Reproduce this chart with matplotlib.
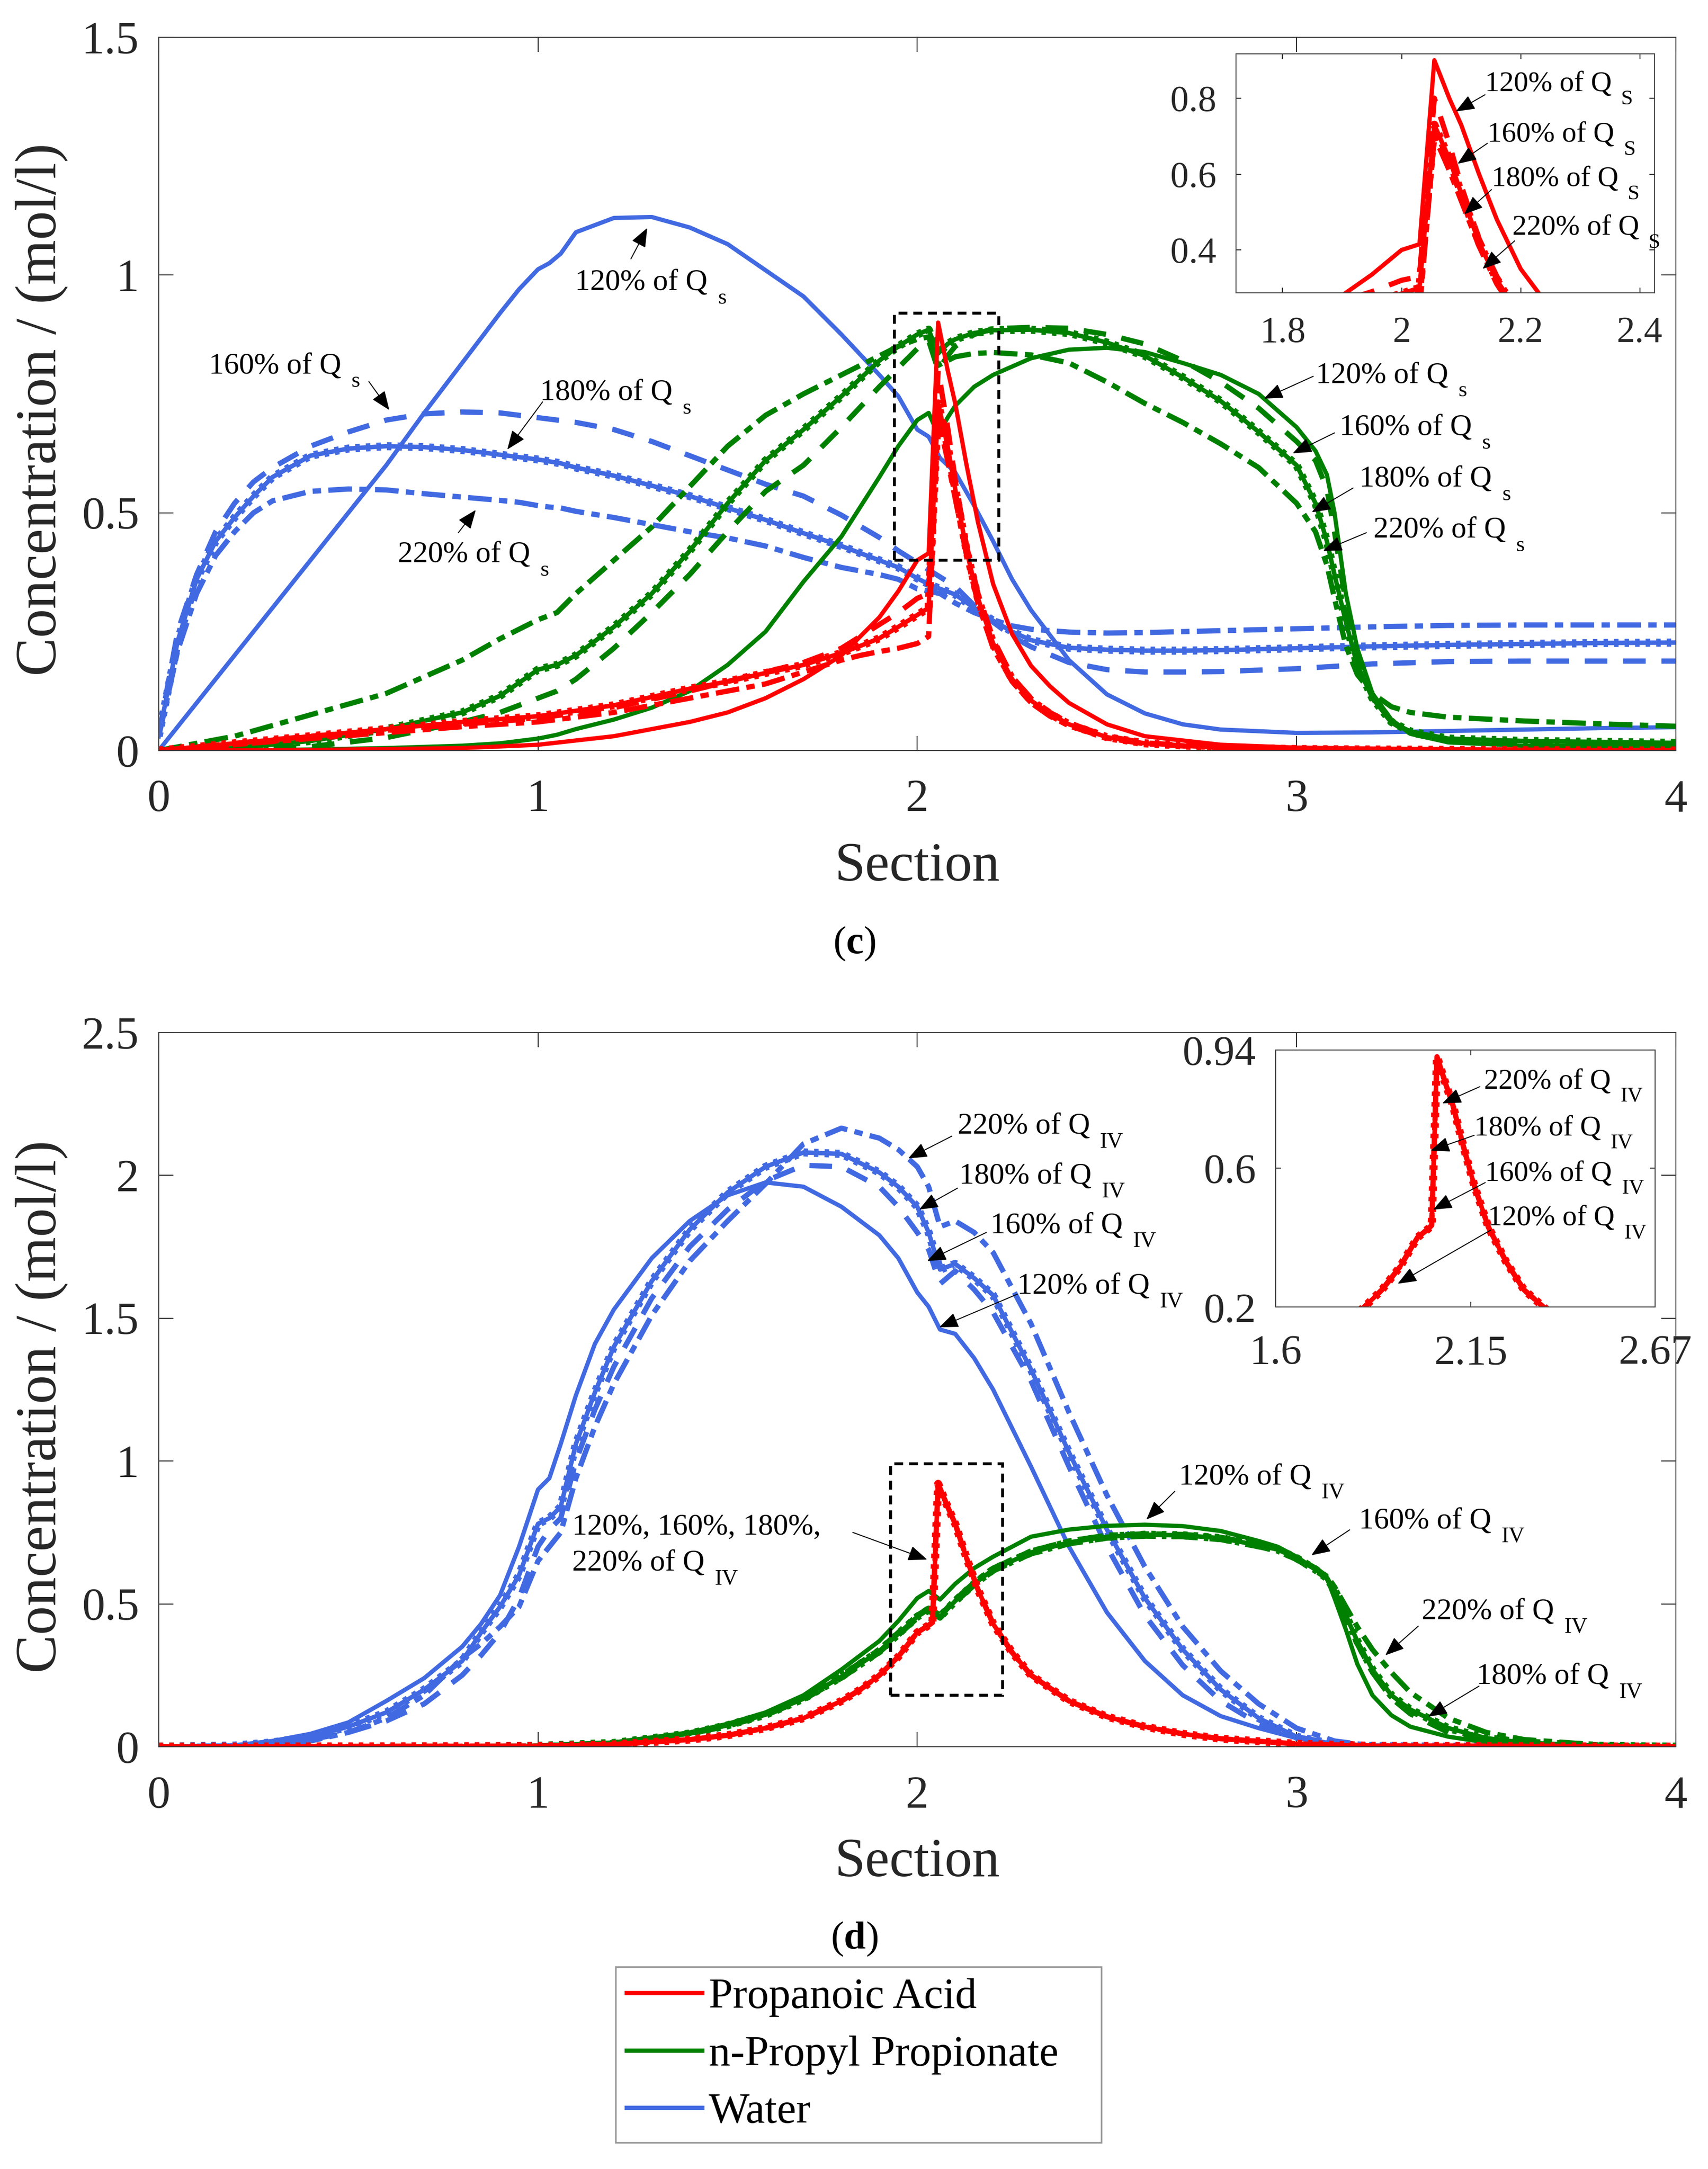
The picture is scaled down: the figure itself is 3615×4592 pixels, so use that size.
import matplotlib.pyplot as plt
from matplotlib.lines import Line2D
from matplotlib.patches import Rectangle
from matplotlib import transforms

plt.rcParams['font.family'] = ['Liberation Serif', 'DejaVu Serif']
plt.rcParams['mathtext.fontset'] = 'custom'
plt.rcParams['mathtext.rm'] = 'Liberation Serif'
plt.rcParams['mathtext.it'] = 'Liberation Serif:italic'
plt.rcParams['mathtext.bf'] = 'Liberation Serif:bold'

red = '#ff0000'
green = '#008000'
blue = '#4169e1'
ink = '#262626'

components = ['Propanoic Acid', 'n-Propyl Propionate', 'Water']
flows = ['120%', '160%', '180%', '220%']
styles = ['solid', 'dash', 'plus', 'dashdot']

# ---------------- (c) changing Q_s ----------------
x_water_c = [0, 0.02, 0.05, 0.1, 0.15, 0.2, 0.25, 0.3, 0.4, 0.5, 0.6, 0.7, 0.8, 0.9, 0.95, 1.0,
             1.03, 1.06, 1.1, 1.2, 1.3, 1.4, 1.5, 1.6, 1.7, 1.8, 1.9, 1.95, 2.0, 2.03, 2.06, 2.1,
             2.15, 2.2, 2.25, 2.3, 2.4, 2.5, 2.6, 2.7, 2.8, 3.0, 3.2, 3.4, 3.6, 3.8, 4.0]
water_c_120 = [0.0, 0.02, 0.05, 0.10, 0.15, 0.20, 0.25, 0.30, 0.40, 0.50, 0.60, 0.71, 0.815, 0.92, 0.97, 1.012,
               1.025, 1.045, 1.09, 1.12, 1.122, 1.10, 1.065, 1.01, 0.955, 0.875, 0.79, 0.745, 0.675, 0.66, 0.615, 0.585,
               0.515, 0.44, 0.36, 0.295, 0.19, 0.118, 0.078, 0.055, 0.044, 0.037, 0.038, 0.041, 0.044, 0.047, 0.049]
water_c_160 = [0.03, 0.12, 0.25, 0.37, 0.46, 0.52, 0.565, 0.595, 0.64, 0.67, 0.695, 0.708, 0.712, 0.71, 0.705, 0.70,
               0.697, 0.694, 0.69, 0.675, 0.65, 0.62, 0.59, 0.56, 0.535, 0.495, 0.448, 0.42, 0.395, 0.38, 0.365, 0.345,
               0.305, 0.27, 0.24, 0.218, 0.185, 0.17, 0.165, 0.165, 0.166, 0.172, 0.182, 0.187, 0.188, 0.188, 0.188]
water_c_180 = [0.03, 0.11, 0.23, 0.36, 0.44, 0.49, 0.535, 0.575, 0.62, 0.635, 0.64, 0.638, 0.632, 0.622, 0.617, 0.612,
               0.608, 0.604, 0.595, 0.578, 0.557, 0.535, 0.51, 0.485, 0.457, 0.43, 0.40, 0.385, 0.362, 0.35, 0.34, 0.328,
               0.30, 0.273, 0.25, 0.232, 0.216, 0.212, 0.21, 0.21, 0.211, 0.215, 0.219, 0.222, 0.224, 0.226, 0.227]
water_c_220 = [0.03, 0.10, 0.21, 0.33, 0.41, 0.46, 0.50, 0.525, 0.545, 0.55, 0.548, 0.54, 0.533, 0.526, 0.522, 0.515,
               0.512, 0.51, 0.503, 0.49, 0.475, 0.46, 0.447, 0.43, 0.406, 0.385, 0.37, 0.36, 0.34, 0.335, 0.33, 0.31,
               0.29, 0.275, 0.262, 0.255, 0.249, 0.247, 0.248, 0.25, 0.252, 0.256, 0.26, 0.263, 0.264, 0.264, 0.264]

x_ester_c = [0, 0.2, 0.4, 0.6, 0.8, 0.9, 1.0, 1.05, 1.1, 1.2, 1.3, 1.4, 1.5, 1.6, 1.7, 1.8, 1.9, 1.95, 2.0,
             2.03, 2.055, 2.08, 2.1, 2.15, 2.2, 2.3, 2.4, 2.5, 2.6, 2.7, 2.8, 2.9, 3.0, 3.05, 3.08, 3.1,
             3.13, 3.16, 3.2, 3.25, 3.3, 3.4, 3.6, 3.8, 4.0]
ester_c_120 = [0, 0.0, 0.002, 0.005, 0.01, 0.015, 0.025, 0.033, 0.045, 0.065, 0.09, 0.125, 0.18, 0.25, 0.355, 0.45,
               0.575, 0.64, 0.695, 0.71, 0.665, 0.70, 0.725, 0.765, 0.79, 0.825, 0.843, 0.847, 0.838, 0.815, 0.79,
               0.75, 0.68, 0.63, 0.58, 0.50, 0.33, 0.215, 0.12, 0.065, 0.035, 0.017, 0.01, 0.01, 0.01]
ester_c_160 = [0, 0.002, 0.008, 0.027, 0.06, 0.08, 0.11, 0.125, 0.15, 0.215, 0.29, 0.37, 0.46, 0.545, 0.60, 0.68,
               0.765, 0.805, 0.845, 0.862, 0.80, 0.83, 0.85, 0.875, 0.887, 0.89, 0.888, 0.875, 0.855, 0.82, 0.775,
               0.72, 0.65, 0.61, 0.55, 0.46, 0.31, 0.20, 0.11, 0.06, 0.035, 0.02, 0.014, 0.012, 0.012]
ester_c_180 = [0, 0.005, 0.02, 0.045, 0.08, 0.115, 0.17, 0.18, 0.20, 0.26, 0.33, 0.42, 0.52, 0.61, 0.675, 0.745,
               0.82, 0.85, 0.875, 0.885, 0.835, 0.855, 0.865, 0.878, 0.884, 0.885, 0.878, 0.858, 0.83, 0.785, 0.735,
               0.67, 0.60, 0.52, 0.44, 0.37, 0.27, 0.18, 0.11, 0.06, 0.04, 0.025, 0.02, 0.018, 0.016]
ester_c_220 = [0, 0.03, 0.075, 0.12, 0.19, 0.235, 0.275, 0.29, 0.33, 0.40, 0.47, 0.555, 0.64, 0.705, 0.75, 0.79,
               0.83, 0.85, 0.865, 0.87, 0.81, 0.82, 0.828, 0.835, 0.837, 0.832, 0.815, 0.775, 0.73, 0.69, 0.645,
               0.595, 0.52, 0.46, 0.39, 0.32, 0.22, 0.16, 0.12, 0.092, 0.08, 0.07, 0.062, 0.056, 0.051]

x_acid_c = [0, 0.4, 0.8, 1.0, 1.2, 1.4, 1.5, 1.6, 1.7, 1.8, 1.85, 1.9, 1.95, 2.0, 2.03, 2.055, 2.08,
            2.1, 2.13, 2.16, 2.2, 2.25, 2.3, 2.35, 2.4, 2.5, 2.6, 2.8, 3.0, 3.2, 3.5, 3.8, 4.0]
acid_c_120 = [0, 0.001, 0.005, 0.012, 0.03, 0.06, 0.08, 0.11, 0.15, 0.20, 0.24, 0.28, 0.335, 0.40, 0.415, 0.90, 0.80,
              0.73, 0.60, 0.48, 0.35, 0.245, 0.178, 0.135, 0.10, 0.055, 0.03, 0.012, 0.006, 0.004, 0.002, 0.001, 0.0]
acid_c_160 = [0, 0.03, 0.055, 0.068, 0.09, 0.125, 0.145, 0.165, 0.185, 0.215, 0.24, 0.265, 0.29, 0.32, 0.33, 0.80, 0.68,
              0.57, 0.43, 0.33, 0.235, 0.155, 0.11, 0.08, 0.058, 0.03, 0.016, 0.006, 0.003, 0.002, 0.001, 0.0, 0.0]
acid_c_180 = [0, 0.03, 0.06, 0.072, 0.095, 0.13, 0.145, 0.163, 0.18, 0.205, 0.22, 0.236, 0.26, 0.285, 0.30, 0.73, 0.64,
              0.55, 0.42, 0.32, 0.225, 0.15, 0.105, 0.077, 0.055, 0.028, 0.015, 0.006, 0.003, 0.002, 0.001, 0.0, 0.0]
acid_c_220 = [0, 0.025, 0.05, 0.06, 0.08, 0.11, 0.125, 0.14, 0.165, 0.19, 0.20, 0.208, 0.215, 0.225, 0.24, 0.70, 0.61,
              0.53, 0.41, 0.31, 0.215, 0.145, 0.10, 0.072, 0.052, 0.026, 0.014, 0.005, 0.003, 0.002, 0.001, 0.0, 0.0]

# ---------------- (d) changing Q_IV ----------------
x_water_d = [0, 0.2, 0.3, 0.4, 0.5, 0.6, 0.7, 0.8, 0.85, 0.9, 0.95, 1.0, 1.03, 1.06, 1.1, 1.15, 1.2, 1.3, 1.4,
             1.5, 1.6, 1.7, 1.8, 1.9, 1.95, 2.0, 2.03, 2.06, 2.1, 2.15, 2.2, 2.3, 2.4, 2.5, 2.6, 2.7, 2.8,
             2.9, 3.0, 3.1, 3.2, 3.4, 4.0]
water_d_120 = [0, 0.005, 0.02, 0.045, 0.085, 0.16, 0.24, 0.35, 0.43, 0.53, 0.70, 0.90, 0.94, 1.06, 1.23, 1.41, 1.53,
               1.71, 1.84, 1.93, 1.975, 1.96, 1.89, 1.79, 1.71, 1.59, 1.54, 1.46, 1.445, 1.36, 1.25, 0.98, 0.70,
               0.47, 0.30, 0.18, 0.107, 0.065, 0.03, 0.01, 0.002, 0.0, 0.0]
water_d_160 = [0, 0.003, 0.01, 0.025, 0.05, 0.09, 0.15, 0.25, 0.32, 0.40, 0.52, 0.70, 0.76, 0.80, 1.0, 1.18, 1.33,
               1.57, 1.75, 1.88, 1.98, 2.035, 2.03, 1.96, 1.89, 1.80, 1.74, 1.62, 1.665, 1.60, 1.52, 1.28, 0.98,
               0.70, 0.46, 0.285, 0.16, 0.08, 0.035, 0.01, 0.002, 0.0, 0.0]
water_d_180 = [0, 0.004, 0.015, 0.035, 0.07, 0.12, 0.20, 0.30, 0.40, 0.49, 0.60, 0.78, 0.80, 0.84, 1.06, 1.24, 1.40,
               1.63, 1.81, 1.94, 2.03, 2.08, 2.075, 2.01, 1.96, 1.89, 1.80, 1.67, 1.69, 1.64, 1.58, 1.32, 1.03,
               0.76, 0.52, 0.34, 0.20, 0.10, 0.035, 0.008, 0.002, 0.0, 0.0]
water_d_220 = [0, 0.002, 0.008, 0.02, 0.05, 0.10, 0.18, 0.31, 0.36, 0.42, 0.49, 0.65, 0.70, 0.75, 0.94, 1.12, 1.27,
               1.51, 1.70, 1.84, 1.97, 2.11, 2.165, 2.13, 2.09, 2.03, 1.96, 1.82, 1.84, 1.80, 1.73, 1.48, 1.17,
               0.88, 0.63, 0.42, 0.265, 0.15, 0.065, 0.02, 0.003, 0.0, 0.0]

x_ester_d = [0, 0.8, 1.0, 1.2, 1.4, 1.5, 1.6, 1.7, 1.8, 1.9, 1.95, 2.0, 2.03, 2.06, 2.1, 2.15, 2.2, 2.3, 2.4,
             2.5, 2.6, 2.7, 2.8, 2.9, 2.95, 3.0, 3.05, 3.08, 3.1, 3.13, 3.16, 3.2, 3.25, 3.3, 3.4, 3.5, 3.6, 3.8, 4.0]
ester_d_120 = [0, 0.0, 0.003, 0.015, 0.05, 0.08, 0.12, 0.18, 0.27, 0.37, 0.44, 0.52, 0.545, 0.515, 0.57, 0.625, 0.665,
               0.735, 0.76, 0.773, 0.777, 0.772, 0.755, 0.72, 0.70, 0.665, 0.62, 0.59, 0.52, 0.41, 0.29, 0.18,
               0.11, 0.07, 0.035, 0.015, 0.006, 0.001, 0.0]
ester_d_160 = [0, 0.0, 0.003, 0.013, 0.045, 0.072, 0.11, 0.165, 0.24, 0.33, 0.39, 0.45, 0.475, 0.45, 0.505, 0.565, 0.615,
               0.675, 0.71, 0.73, 0.737, 0.735, 0.725, 0.70, 0.685, 0.655, 0.615, 0.59, 0.54, 0.45, 0.36, 0.26,
               0.17, 0.115, 0.05, 0.022, 0.01, 0.002, 0.0]
ester_d_180 = [0, 0.0, 0.003, 0.013, 0.046, 0.075, 0.112, 0.168, 0.245, 0.335, 0.395, 0.455, 0.48, 0.455, 0.51, 0.57,
               0.62, 0.68, 0.715, 0.735, 0.742, 0.74, 0.73, 0.705, 0.69, 0.66, 0.62, 0.59, 0.55, 0.46, 0.37, 0.27,
               0.18, 0.13, 0.065, 0.03, 0.014, 0.003, 0.0]
ester_d_220 = [0, 0.0, 0.003, 0.014, 0.047, 0.077, 0.115, 0.17, 0.25, 0.34, 0.40, 0.46, 0.485, 0.46, 0.515, 0.575,
               0.625, 0.685, 0.72, 0.74, 0.745, 0.743, 0.733, 0.708, 0.693, 0.663, 0.625, 0.595, 0.56, 0.49, 0.42,
               0.34, 0.26, 0.19, 0.10, 0.05, 0.025, 0.006, 0.0]

# the four acid profiles of (d) lie on top of each other
x_acid_d = [0, 1.0, 1.2, 1.4, 1.5, 1.6, 1.7, 1.8, 1.85, 1.9, 1.95, 2.0, 2.03, 2.04, 2.055, 2.08, 2.1, 2.13, 2.16,
            2.2, 2.25, 2.3, 2.4, 2.5, 2.6, 2.7, 2.8, 3.0, 3.2, 4.0]
acid_d = [0, 0.002, 0.008, 0.025, 0.04, 0.065, 0.10, 0.16, 0.20, 0.25, 0.315, 0.40, 0.425, 0.435, 0.92, 0.84, 0.78,
          0.66, 0.55, 0.43, 0.33, 0.25, 0.16, 0.105, 0.07, 0.045, 0.028, 0.01, 0.003, 0.0]


def draw(ax, x, y, color, style, lw=6.5):
    if style == 'solid':
        ax.plot(x, y, color=color, lw=lw)
    elif style == 'dash':
        ax.plot(x, y, color=color, lw=lw + 1.5, dashes=(4.3, 3.0))
    elif style == 'dashdot':
        ax.plot(x, y, color=color, lw=lw + 1.5, dashes=(4.5, 1.4, 1.6, 1.4))
    else:
        # line with dense '+' markers
        ax.plot(x, y, color=color, lw=lw * 1.05)
        ax.plot(x, y, color=color, lw=lw * 1.9, dashes=(0.55, 0.75))


def label(ax, x, y, text, sub, size=46):
    # main text, digits centred on (x, y); subscript placed after it, lower and smaller
    tr = transforms.offset_copy(ax.transData, fig=fig, y=-0.33 * size, units='points')
    t = ax.text(x, y, text, fontsize=size, transform=tr, ha='left', va='baseline', color='black')
    if sub:
        w = t.get_window_extent(renderer).width
        tr2 = transforms.offset_copy(ax.transData, fig=fig, x=w + 0.33 * size * 100 / 72,
                                     y=-(0.33 + 0.45) * size * 100 / 72, units='dots')
        ax.text(x, y, sub, fontsize=size * 0.74, transform=tr2, ha='left', va='baseline', color='black')


def arrow(ax, tail, tip):
    ax.annotate('', xy=tip, xytext=tail,
                arrowprops=dict(arrowstyle='-|>,head_length=0.5,head_width=0.2', color='black',
                                lw=1.5, mutation_scale=50, shrinkA=0, shrinkB=0))


def frame(ax, size, xpad, ypad, tl):
    ax.tick_params(direction='in', length=tl, width=1.5, colors=ink, labelsize=size,
                   top=True, right=True)
    ax.tick_params(axis='x', pad=xpad)
    ax.tick_params(axis='y', pad=ypad)
    for s in ax.spines.values():
        s.set_color('#404040')
        s.set_linewidth(1.5)


fig = plt.figure(figsize=(36.16, 45.92), dpi=100)
renderer = fig.canvas.get_renderer()

# ================= panel (c) =================
ax1 = fig.add_axes([0.0929, 0.654, 0.888, 0.3288])
for y, st in zip([water_c_120, water_c_160, water_c_180, water_c_220], styles):
    draw(ax1, x_water_c, y, blue, st)
for y, st in zip([ester_c_120, ester_c_160, ester_c_180, ester_c_220], styles):
    draw(ax1, x_ester_c, y, green, st)
for y, st in zip([acid_c_120, acid_c_160, acid_c_180, acid_c_220], styles):
    draw(ax1, x_acid_c, y, red, st)
ax1.add_patch(Rectangle((1.94, 0.40), 0.275, 0.52, fill=False, ec='black', lw=4.5,
                        ls=(0, (3, 2)), zorder=5))
ax1.set_xlim(0, 4)
ax1.set_ylim(0, 1.5)
ax1.set_xticks([0, 1, 2, 3, 4])
ax1.set_xticklabels(['0', '1', '2', '3', '4'])
ax1.set_yticks([0, 0.5, 1, 1.5])
ax1.set_yticklabels(['0', '0.5', '1', '1.5'])
frame(ax1, 70, 44, 30, 22)
ax1.set_xlabel('Section', fontsize=84, color=ink)
ax1.xaxis.label.set_va('center')
ax1.xaxis.set_label_coords(0.5, -0.164)
ax1.set_ylabel('Concentration / (mol/l)', fontsize=88, color=ink)
ax1.yaxis.label.set_va('center')
ax1.yaxis.set_label_coords(-0.0773, 0.478)

notes_c = [
    ('120% of Q', 's', (1.098, 0.989), (1.245, 1.034), (1.288, 1.099)),
    ('160% of Q', 's', (0.132, 0.814), (0.554, 0.776), (0.608, 0.716)),
    ('180% of Q', 's', (1.005, 0.758), (1.012, 0.733), (0.919, 0.633)),
    ('220% of Q', 's', (0.630, 0.417), (0.790, 0.458), (0.836, 0.506)),
    ('120% of Q', 's', (3.051, 0.794), (3.044, 0.787), (2.914, 0.740)),
    ('160% of Q', 's', (3.113, 0.684), (3.100, 0.668), (2.990, 0.625)),
    ('180% of Q', 's', (3.166, 0.576), (3.149, 0.552), (3.040, 0.501)),
    ('220% of Q', 's', (3.203, 0.469), (3.184, 0.458), (3.070, 0.420)),
]
for t, sub, pos, tail, tip in notes_c:
    label(ax1, pos[0], pos[1], t, sub)
    arrow(ax1, tail, tip)

# inset of (c)
ax1i = fig.add_axes([0.7235, 0.865, 0.245, 0.1102])
for y, st in zip([acid_c_120, acid_c_160, acid_c_180, acid_c_220], styles):
    draw(ax1i, x_acid_c, y, red, st)
ax1i.set_xlim(1.722, 2.425)
ax1i.set_ylim(0.287, 0.917)
ax1i.set_xticks([1.8, 2.0, 2.2, 2.4])
ax1i.set_xticklabels(['1.8', '2', '2.2', '2.4'])
ax1i.set_yticks([0.4, 0.6, 0.8])
ax1i.set_yticklabels(['0.4', '0.6', '0.8'])
frame(ax1i, 56, 36, 30, 8)

notes_ci = [
    ('120% of Q', 'S', (2.140, 0.843), (2.140, 0.809), (2.091, 0.765)),
    ('160% of Q', 'S', (2.144, 0.710), (2.144, 0.681), (2.094, 0.627)),
    ('180% of Q', 'S', (2.151, 0.593), (2.151, 0.559), (2.105, 0.494)),
    ('220% of Q', 'S', (2.186, 0.465), (2.190, 0.424), (2.136, 0.350)),
]
for t, sub, pos, tail, tip in notes_ci:
    label(ax1i, pos[0], pos[1], t, sub, size=44)
    arrow(ax1i, tail, tip)

# ================= panel (d) =================
ax2 = fig.add_axes([0.0929, 0.1947, 0.888, 0.3293])
for y, st in zip([water_d_120, water_d_160, water_d_180, water_d_220], styles):
    draw(ax2, x_water_d, y, blue, st)
for y, st in zip([ester_d_120, ester_d_160, ester_d_180, ester_d_220], styles):
    draw(ax2, x_ester_d, y, green, st)
for st in styles:
    draw(ax2, x_acid_d, acid_d, red, st)
ax2.add_patch(Rectangle((1.93, 0.18), 0.295, 0.81, fill=False, ec='black', lw=4.5,
                        ls=(0, (3, 2)), zorder=5))
ax2.set_xlim(0, 4)
ax2.set_ylim(0, 2.5)
ax2.set_xticks([0, 1, 2, 3, 4])
ax2.set_xticklabels(['0', '1', '2', '3', '4'])
ax2.set_yticks([0, 0.5, 1, 1.5, 2, 2.5])
ax2.set_yticklabels(['0', '0.5', '1', '1.5', '2', '2.5'])
frame(ax2, 70, 44, 30, 22)
ax2.set_xlabel('Section', fontsize=84, color=ink)
ax2.xaxis.label.set_va('center')
ax2.xaxis.set_label_coords(0.5, -0.163)
ax2.set_ylabel('Concentration / (mol/l)', fontsize=88, color=ink)
ax2.yaxis.label.set_va('center')
ax2.yaxis.set_label_coords(-0.0773, 0.476)

notes_d = [
    ('220% of Q', 'IV', (2.106, 2.180), (2.091, 2.137), (1.976, 2.059)),
    ('180% of Q', 'IV', (2.110, 2.006), (2.106, 1.955), (2.005, 1.880)),
    ('160% of Q', 'IV', (2.192, 1.832), (2.182, 1.800), (2.026, 1.700)),
    ('120% of Q', 'IV', (2.264, 1.620), (2.264, 1.584), (2.058, 1.468)),
    ('120% of Q', 'IV', (2.690, 0.953), (2.679, 0.894), (2.604, 0.795)),
    ('160% of Q', 'IV', (3.164, 0.799), (3.140, 0.759), (3.039, 0.670)),
    ('220% of Q', 'IV', (3.330, 0.481), (3.321, 0.422), (3.234, 0.320)),
    ('180% of Q', 'IV', (3.474, 0.254), (3.481, 0.212), (3.347, 0.105)),
]
for t, sub, pos, tail, tip in notes_d:
    label(ax2, pos[0], pos[1], t, sub)
    arrow(ax2, tail, tip)
label(ax2, 1.09, 0.777, '120%, 160%, 180%,', None)
label(ax2, 1.09, 0.651, '220% of Q', 'IV')
arrow(ax2, (1.83, 0.75), (2.026, 0.655))

# inset of (d)
ax2i = fig.add_axes([0.7467, 0.3974, 0.222, 0.1186])
for st in styles:
    draw(ax2i, x_acid_d, acid_d, red, st)
ax2i.set_xlim(1.6, 2.67)
ax2i.set_ylim(0.2, 0.94)
ax2i.set_xticks([1.6, 2.15, 2.67])
ax2i.set_xticklabels(['1.6', '2.15', '2.67'])
ax2i.set_yticks([0.2, 0.6, 0.94])
ax2i.set_yticklabels(['0.2', '0.6', '0.94'])
frame(ax2i, 64, 42, 30, 8)

notes_di = [
    ('220% of Q', 'IV', (2.188, 0.856), (2.176, 0.834), (2.070, 0.786)),
    ('180% of Q', 'IV', (2.160, 0.721), (2.160, 0.694), (2.037, 0.650)),
    ('160% of Q', 'IV', (2.191, 0.591), (2.191, 0.558), (2.044, 0.480)),
    ('120% of Q', 'IV', (2.198, 0.462), (2.206, 0.421), (1.944, 0.267)),
]
for t, sub, pos, tail, tip in notes_di:
    label(ax2i, pos[0], pos[1], t, sub, size=44)
    arrow(ax2i, tail, tip)

# panel letters
fig.text(0.5, 0.5649, r'($\mathbf{c}$)', ha='center', va='center', fontsize=60, color='black')
fig.text(0.5, 0.1060, r'($\mathbf{d}$)', ha='center', va='center', fontsize=60, color='black')

# legend
handles = [Line2D([0], [0], color=c, lw=6.5) for c in [red, green, blue]]
leg = fig.legend(handles, components, loc='upper left',
                 bbox_to_anchor=(0.3603, 0.0096, 0.2843, 0.0836), mode='expand', borderaxespad=0,
                 fontsize=66, handlelength=1.75, handletextpad=0.15, borderpad=0.25,
                 labelspacing=0.42, fancybox=False, framealpha=1, edgecolor='#999999')
leg.get_frame().set_linewidth(2.5)

fig.savefig('out.png', dpi=100)
